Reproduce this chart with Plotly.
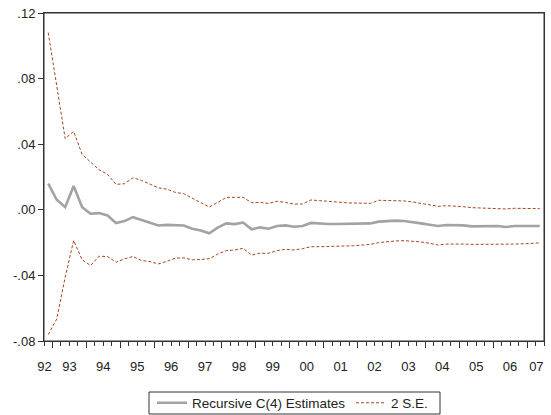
import plotly.graph_objects as go

# Quarterly observations 1992Q4 .. 2007Q2 (59 points)
quarters = [f"{1992 + (q + 3) // 4}Q{(q + 3) % 4 + 1}" for q in range(59)]

estimates = [
    0.0159, 0.0061, 0.0016, 0.0145, 0.0016, -0.0024, -0.0020, -0.0035, -0.0081, -0.0069,
    -0.0045, -0.0061, -0.0079, -0.0096, -0.0092, -0.0094, -0.0096, -0.0116, -0.0126, -0.0143,
    -0.0109, -0.0083, -0.0087, -0.0078, -0.0119, -0.0107, -0.0115, -0.0099, -0.0095, -0.0103,
    -0.0099, -0.0080, -0.0085, -0.0087, -0.0087, -0.0087, -0.0087, -0.0085, -0.0083, -0.0072,
    -0.0068, -0.0066, -0.0068, -0.0074, -0.0083, -0.0091, -0.0099, -0.0093, -0.0093, -0.0095,
    -0.0101, -0.0101, -0.0101, -0.0099, -0.0105, -0.0099, -0.0099, -0.0099, -0.0099,
]

upper_se = [
    0.1080, 0.0770, 0.0434, 0.0478, 0.0338, 0.0291, 0.0244, 0.0216, 0.0155, 0.0159,
    0.0195, 0.0179, 0.0155, 0.0134, 0.0126, 0.0106, 0.0098, 0.0071, 0.0047, 0.0017,
    0.0045, 0.0076, 0.0076, 0.0076, 0.0043, 0.0045, 0.0039, 0.0052, 0.0045, 0.0035,
    0.0035, 0.0060, 0.0056, 0.0050, 0.0048, 0.0043, 0.0043, 0.0039, 0.0039, 0.0058,
    0.0058, 0.0058, 0.0054, 0.0048, 0.0039, 0.0029, 0.0021, 0.0025, 0.0023, 0.0019,
    0.0013, 0.0011, 0.0011, 0.0009, 0.0005, 0.0009, 0.0009, 0.0007, 0.0007,
]

lower_se = [
    -0.0761, -0.0666, -0.0411, -0.0187, -0.0305, -0.0340, -0.0283, -0.0285, -0.0320, -0.0299,
    -0.0285, -0.0309, -0.0316, -0.0330, -0.0314, -0.0295, -0.0293, -0.0305, -0.0303, -0.0298,
    -0.0270, -0.0249, -0.0245, -0.0235, -0.0276, -0.0265, -0.0265, -0.0249, -0.0241, -0.0245,
    -0.0237, -0.0225, -0.0225, -0.0225, -0.0221, -0.0221, -0.0219, -0.0215, -0.0211, -0.0200,
    -0.0194, -0.0190, -0.0188, -0.0190, -0.0196, -0.0204, -0.0215, -0.0209, -0.0207, -0.0209,
    -0.0211, -0.0211, -0.0211, -0.0211, -0.0213, -0.0209, -0.0207, -0.0204, -0.0202,
]

year_labels = ["92", "93", "94", "95", "96", "97", "98", "99", "00", "01", "02", "03", "04", "05", "06", "07"]
y_tick_vals = [-0.08, -0.04, 0.0, 0.04, 0.08, 0.12]
y_tick_text = ["-.08", "-.04", ".00", ".04", ".08", ".12"]

n = len(quarters)
xs = list(range(n))

# label positions: centre of each year (first and last pulled inside the axis)
label_pos = [(1992 + k - 1993) * 4 + 2.5 for k in range(len(year_labels))]
label_pos[0] = -0.45
label_pos[-1] = 57.6

major_ticks = [(yr - 1993) * 4 + 0.5 for yr in range(1993, 2008)]
minor_ticks = [q + 0.5 for q in range(-1, n) if (q + 0.5) not in major_ticks]

FONT = "Liberation Sans, Arial, sans-serif"
GRAY = "#a3a3a7"
RUST = "#a5461c"
AX = "#333333"

fig = go.Figure()
fig.add_trace(go.Scatter(x=xs, y=estimates, mode="lines", name="Recursive C(4) Estimates",
                         legend="legend",
                         line=dict(color=GRAY, width=2.6), hoverinfo="skip"))
fig.add_trace(go.Scatter(x=xs, y=upper_se, mode="lines", name="2 S.E.", legendgroup="se",
                         legend="legend2",
                         line=dict(color=RUST, width=1, dash="3px,2px"), hoverinfo="skip"))
fig.add_trace(go.Scatter(x=xs, y=lower_se, mode="lines", name="2 S.E.", legendgroup="se",
                         legend="legend2", showlegend=False,
                         line=dict(color=RUST, width=1, dash="3px,2px"), hoverinfo="skip"))
# invisible traces so the overlay axes are drawn
fig.add_trace(go.Scatter(x=[xs[0]], y=[estimates[0]], xaxis="x2", yaxis="y", mode="markers",
                         marker=dict(opacity=0), showlegend=False, hoverinfo="skip"))
fig.add_trace(go.Scatter(x=[xs[0]], y=[estimates[0]], xaxis="x3", yaxis="y", mode="markers",
                         marker=dict(opacity=0), showlegend=False, hoverinfo="skip"))

xr = [-0.5, n - 0.5]
leg_common = dict(orientation="h", yanchor="middle", y=-0.189, xanchor="left",
                  bgcolor="rgba(0,0,0,0)", borderwidth=0,
                  font=dict(size=13.5, color="#222"), itemwidth=30)
fig.update_layout(
    template="none",
    width=551, height=415,
    margin=dict(l=44, r=7, t=13, b=74, pad=0, autoexpand=False),
    paper_bgcolor="white", plot_bgcolor="white",
    font=dict(family=FONT, size=12, color="#222"),
    showlegend=True,
    legend=dict(x=(152 - 44) / 500, **leg_common),
    legend2=dict(x=(351 - 44) / 500, **leg_common),
    # label axis
    xaxis=dict(range=xr, tickmode="array", tickvals=label_pos, ticktext=year_labels,
               ticks="outside", ticklen=13, tickcolor="rgba(0,0,0,0)",
               tickfont=dict(size=13, color="#222"),
               showgrid=False, zeroline=False, showline=True, linecolor=AX,
               linewidth=1, mirror=True, automargin=False),
    # major tick marks
    xaxis2=dict(range=xr, overlaying="x", anchor="y", side="bottom", tickmode="array",
                tickvals=major_ticks, showticklabels=False,
                ticks="outside", ticklen=6, tickcolor=AX, tickwidth=1,
                showgrid=False, zeroline=False, showline=False, automargin=False),
    # minor tick marks
    xaxis3=dict(range=xr, overlaying="x", anchor="y", side="bottom", tickmode="array",
                tickvals=minor_ticks, showticklabels=False,
                ticks="outside", ticklen=4, tickcolor=AX, tickwidth=1,
                showgrid=False, zeroline=False, showline=False, automargin=False),
    yaxis=dict(range=[-0.08, 0.12], tickmode="array", tickvals=y_tick_vals,
               ticktext=y_tick_text, ticks="outside", ticklen=5, tickcolor=AX,
               tickfont=dict(size=13, color="#222"),
               showgrid=False, zeroline=False, showline=True, linecolor=AX,
               linewidth=1, mirror=True, automargin=False),
    shapes=[
        dict(type="rect", xref="paper", yref="paper", x0=0, x1=1, y0=0, y1=1,
             line=dict(color=AX, width=1), fillcolor="rgba(0,0,0,0)", layer="above"),
        dict(type="rect", xref="paper", yref="paper",
             x0=(149 - 44) / 500, x1=(440 - 44) / 500,
             y0=(341 - 414) / 328, y1=(341 - 392) / 328,
             line=dict(color=AX, width=1), fillcolor="rgba(0,0,0,0)", layer="above"),
    ],
)

fig.write_html("out.html", config={"displayModeBar": False},
               post_script="document.body.style.margin='0';document.body.style.padding='0';")
